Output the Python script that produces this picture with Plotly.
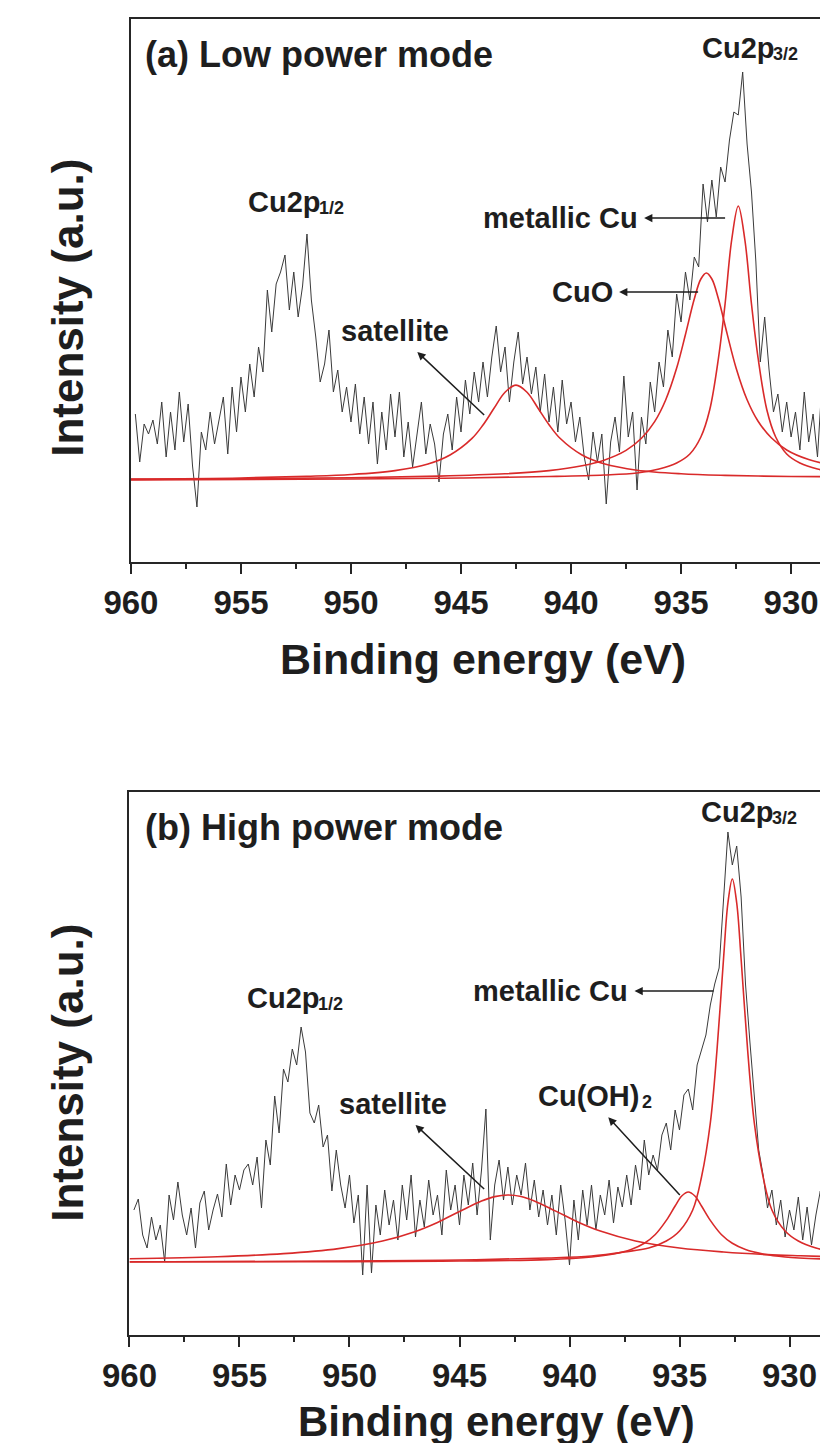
import numpy as np
import plotly.graph_objects as go

# ---------------- data (intensity in arbitrary units) ----------------
energy_a = np.round(np.linspace(959.8, 928.2, 159), 1)
spectrum_a = [
    148, 100, 138, 128, 142, 118, 160, 105, 150, 112,
    170, 120, 158, 96, 55, 130, 112, 150, 118, 140,
    165, 108, 175, 130, 185, 150, 198, 165, 215, 190,
    272, 230, 278, 290, 307, 252, 290, 245, 276, 328,
    262, 225, 180, 198, 232, 170, 192, 150, 175, 140,
    178, 128, 165, 118, 160, 98, 150, 112, 168, 125,
    170, 105, 140, 95, 130, 160, 108, 138, 118, 80,
    128, 148, 112, 165, 130, 182, 148, 190, 160, 200,
    165, 205, 236, 190, 215, 160, 200, 230, 178, 205,
    168, 195, 150, 188, 140, 175, 130, 182, 138, 160,
    120, 145, 105, 82, 130, 100, 128, 58, 120, 145,
    110, 186, 125, 150, 72, 145, 118, 180, 150, 200,
    175, 232, 205, 268, 240, 290, 262, 305, 295, 378,
    340, 382, 345, 395, 380, 422, 450, 447, 490, 418,
    370, 300, 200, 245, 192, 150, 168, 130, 160, 125,
    150, 112, 170, 120, 148, 105, 178, 118, 140,
]

energy_b = np.round(np.linspace(959.8, 928.4, 158), 1)
spectrum_b = [
    125, 136, 100, 87, 118, 95, 110, 73, 140, 115,
    153, 120, 100, 127, 87, 132, 144, 105, 125, 141,
    118, 171, 130, 160, 145, 165, 171, 150, 178, 127,
    195, 170, 239, 202, 266, 253, 286, 270, 308, 283,
    222, 212, 230, 188, 200, 144, 185, 150, 127, 160,
    112, 140, 60, 150, 62, 130, 100, 145, 110, 135,
    95, 150, 115, 160, 98, 135, 108, 155, 120, 140,
    100, 165, 125, 150, 110, 160, 130, 172, 120, 165,
    226, 95, 150, 175, 135, 168, 130, 160, 140, 172,
    125, 155, 118, 145, 110, 140, 100, 150, 115, 70,
    135, 95, 145, 110, 150, 105, 140, 120, 155, 112,
    148, 128, 160, 130, 170, 145, 195, 160, 180, 165,
    200, 212, 185, 225, 205, 240, 246, 225, 270, 286,
    300, 330, 351, 367, 438, 503, 470, 489, 438, 351,
    293, 236, 185, 160, 127, 145, 110, 135, 98, 125,
    105, 138, 95, 128, 90, 120, 144, 75,
]

# fitted components, panel (a)
sat_a_e = [960, 955, 952, 950, 948, 946.5, 945.5, 944.5, 944, 943.5, 943, 942.5,
           942, 941.5, 941, 940.5, 939.5, 938.5, 937, 935, 933, 930, 928]
sat_a_v = [83, 84, 85.7, 87.5, 91.4, 98, 107, 123.6, 137, 153.7, 169.8, 176.9,
           169.8, 153.8, 137.3, 123.7, 107, 98.2, 91.8, 88.2, 86.6, 85.5, 85.3]

cuo_a_e = [960, 955, 950, 946, 943, 941, 939.5, 938.5, 937.5, 936.8, 936.2, 935.7, 935.2,
           934.8, 934.4, 934.1, 933.85, 933.6, 933.3, 932.9, 932.5, 932.0, 931.5, 930.9,
           930.2, 929.2, 928.0]
cuo_a_v = [82.6, 83.3, 84.3, 85.9, 88.2, 91.4, 96.2, 101.8, 111.6, 123.7, 140.4, 162, 193.9,
           227.5, 263, 283, 289, 283, 263, 227.6, 194, 162.2, 140.7, 124.2,
           112, 102.4, 96.1]

met_a_e = [960, 950, 945, 941, 938.5, 937, 936, 935.2, 934.6, 934.1, 933.7, 933.3, 933.0,
           932.7, 932.4, 932.1, 931.8, 931.5, 931.1, 930.7, 930.2, 929.6, 928.8, 928.0]
met_a_v = [82, 83, 84, 85.5, 87, 89, 93, 99, 108, 125, 152, 204, 258,
           322, 356, 322, 258, 204, 152, 125, 108, 99, 93, 90]

# fitted components, panel (b)
sat_b_e = [960, 956, 953, 950.5, 948.5, 947, 946, 945, 944, 943.4, 942.8, 942.2, 941.6,
           940.6, 939.6, 938.6, 937, 935, 933, 931, 929.5, 928.5]
sat_b_v = [76.2, 78.3, 81.4, 86.4, 94, 103.6, 112.6, 123.5, 134, 138.4, 140, 138.5, 134.1,
           123.6, 112.8, 103.9, 94, 87, 83, 80.4, 79.2, 78.5]

oh_b_e = [960, 950, 945, 941, 939, 938, 937.2, 936.6, 936.1, 935.6, 935.2, 934.9, 934.6,
          934.3, 934.0, 933.6, 933.1, 932.6, 932.0, 931.2, 930.2, 928.5]
oh_b_v = [73.2, 73.4, 74, 75.4, 78, 81, 85.5, 91.7, 100.5, 114.6, 129, 139, 143,
          139, 129, 114.6, 100.5, 91.7, 85.5, 81, 78, 76]

met_b_e = [960, 950, 945, 941, 939, 937.5, 936.4, 935.6, 935.0, 934.4, 934.0, 933.6, 933.3,
           933.0, 932.8, 932.6, 932.4, 932.2, 931.9, 931.6, 931.2, 930.8, 930.2, 929.6,
           928.8, 928.2]
met_b_v = [73, 74, 75, 77, 79, 83, 87, 94, 104, 125, 158, 212, 284,
           376, 432, 456, 432, 376, 284, 212, 158, 125, 104, 94,
           87, 84]

x_ticks = [960, 955, 950, 945, 940, 935, 930]
x_minor = [957.5, 952.5, 947.5, 942.5, 937.5, 932.5]

# ---------------- figure ----------------
W, H = 828, 1443
FONT = "Liberation Sans, Arial, Helvetica, sans-serif"
INK = "#262626"
TXT = "#1e1e1e"
RED = "#d92a2a"


def px(x):
    return x / W


def py(y):
    return 1 - y / H


fig = go.Figure()

for xs, ys, xa, ya in [(energy_a, spectrum_a, "x", "y"), (energy_b, spectrum_b, "x2", "y2")]:
    fig.add_trace(go.Scatter(x=xs, y=ys, mode="lines", xaxis=xa, yaxis=ya,
                             line=dict(color="#3a3a3a", width=1), showlegend=False,
                             hoverinfo="skip"))

for xs, ys, xa, ya in [(sat_a_e, sat_a_v, "x", "y"), (cuo_a_e, cuo_a_v, "x", "y"),
                       (met_a_e, met_a_v, "x", "y"), (sat_b_e, sat_b_v, "x2", "y2"),
                       (oh_b_e, oh_b_v, "x2", "y2"), (met_b_e, met_b_v, "x2", "y2")]:
    fig.add_trace(go.Scatter(x=xs, y=ys, mode="lines", xaxis=xa, yaxis=ya,
                             line=dict(color=RED, width=1.6, shape="spline", smoothing=1.0),
                             showlegend=False, hoverinfo="skip"))

xcommon = dict(
    showline=True, linecolor=INK, linewidth=2, mirror=True,
    ticks="outside", ticklen=10, tickwidth=2, tickcolor=INK,
    tickvals=x_ticks, ticktext=[str(v) for v in x_ticks],
    tickfont=dict(family=FONT, size=33, color=TXT, weight="bold"),
    minor=dict(tickvals=x_minor, ticklen=5, tickwidth=1.5, tickcolor=INK, ticks="outside"),
    showgrid=False, zeroline=False,
)
ycommon = dict(showline=True, linecolor=INK, linewidth=2, showticklabels=False,
               ticks="", showgrid=False, zeroline=False, range=[0, 543])

fig.update_layout(
    width=W, height=H,
    margin=dict(l=0, r=0, t=0, b=0),
    paper_bgcolor="white", plot_bgcolor="white",
    xaxis=dict(domain=[px(98.5), 1.0], range=[960, 928.05], anchor="y", **xcommon),
    yaxis=dict(domain=[py(554), py(11)], anchor="x", mirror=False, **ycommon),
    xaxis2=dict(domain=[px(97), px(827.5)], range=[960, 928.0], anchor="y2", **xcommon),
    yaxis2=dict(domain=[py(1327), py(784)], anchor="x2", mirror=True, **ycommon),
)


def label(x, y, text, size=29, xanchor="center"):
    return dict(x=px(x), y=py(y), xref="paper", yref="paper", text=text, showarrow=False,
                xanchor=xanchor, yanchor="middle",
                font=dict(family=FONT, size=size, color=TXT, weight="bold"))


def subbed(left, y, main, sub, size=29, subsize=18):
    # main text plus a smaller, slightly lowered subscript placed right after it
    mw = 2.5 * size + 1.5
    return [label(left, y, main, size=size, xanchor="left"),
            label(left + mw, y + 6, sub, size=subsize, xanchor="left")]


def pointer(text, cx, cy, tx, ty, size=29):
    # text centred at (cx, cy); line runs from the peak point (tx, ty) to the text,
    # with the arrow head at the text side
    return dict(x=px(tx), y=py(ty), xref="paper", yref="paper", text=text,
                showarrow=True, ax=cx - tx, ay=cy - ty, axref="pixel", ayref="pixel",
                arrowside="start", startarrowhead=2, startarrowsize=1.1,
                arrowwidth=1.5, arrowcolor=TXT, standoff=0, startstandoff=5,
                font=dict(family=FONT, size=size, color=TXT, weight="bold"))


ann = [
    # panel (a)
    label(111, 47, "(a) Low power mode", size=36, xanchor="left"),
    *subbed(689, 40, "Cu2p", "3/2"),
    *subbed(218, 194, "Cu2p", "1/2"),
    pointer("metallic Cu", 550, 210, 715, 210),
    pointer("CuO", 571, 284, 687, 284),
    pointer("satellite", 376, 323, 465, 407),
    # panel (b)
    label(111, 819, "(b) High power mode", size=36, xanchor="left"),
    *subbed(688, 804, "Cu2p", "3/2"),
    *subbed(217, 990, "Cu2p", "1/2"),
    pointer("metallic Cu", 540, 983, 703, 983),
    pointer("satellite", 374, 1096, 465, 1181),
    pointer("Cu(OH)", 577, 1088, 668, 1187),
    label(627, 1094, "2", size=18, xanchor="left"),
    # axis titles
    label(464, 651, "Binding energy (eV)", size=43),
    label(478, 1413, "Binding energy (eV)", size=42),
]
for yc in (300, 1065):
    a = label(32, yc, "Intensity (a.u.)", size=44)
    a["textangle"] = -90
    ann.append(a)

fig.update_layout(annotations=ann)
fig.write_html("out.html")
